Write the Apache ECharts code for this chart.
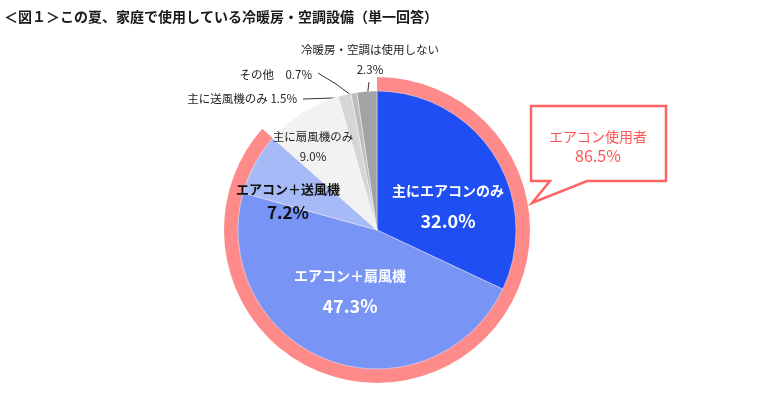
<!DOCTYPE html>
<html>
<head>
<meta charset="utf-8">
<script src="https://cdn.jsdelivr.net/npm/echarts@6/dist/echarts.min.js"></script>
<style>
  html, body { margin: 0; padding: 0; background: #fff; }
  #main { width: 760px; height: 397px; }
</style>
</head>
<body>
<div id="main"></div>
<script>
// data
var categories = ['主にエアコンのみ', 'エアコン＋扇風機', 'エアコン＋送風機', '主に扇風機のみ', '主に送風機のみ', 'その他', '冷暖房・空調は使用しない'];
var values = [32.0, 47.3, 7.2, 9.0, 1.5, 0.7, 2.3];
var airconCount = 3; // 先頭3項目がエアコン使用者

var colors = ['#1F4EF2', '#7895F6', '#A7BAF8', '#F2F2F2', '#D6D6D6', '#BDBDBD', '#A3A3A3'];
var font = '"Noto Sans CJK JP", "Noto Sans", sans-serif';
var cx = 377, cy = 230, rPie = 139, rRing = 153;

var airconTotal = 0;
for (var i = 0; i < airconCount; i++) airconTotal += values[i];
airconTotal = Math.round(airconTotal * 10) / 10;
var total = values.reduce(function (a, b) { return a + b; }, 0);

// ラベル位置（中心 or 右端）
var labelPos = [
  { x: 448, y: 206, align: 'center' },
  { x: 350, y: 291, align: 'center' },
  { x: 288, y: 201, align: 'center' },
  { x: 313, y: 147, align: 'center' },
  { x: 297, y: 99, align: 'right' },
  { x: 312, y: 75, align: 'right' },
  { x: 370, y: 60, align: 'center' }
];
// 引き出し線の折れ点
var lineBend = [null, null, null, null, [333, 98], [336, 84], [368, 90]];

function midPoint(idx, r) {
  var acc = 0;
  for (var k = 0; k < idx; k++) acc += values[k];
  var frac = (acc + values[idx] / 2) / total;
  var ang = Math.PI / 2 - frac * Math.PI * 2;
  return [cx + r * Math.cos(ang), cy - r * Math.sin(ang)];
}

var richStyles = {
  wb: { color: '#fff', fontWeight: 'bold', fontSize: 14, fontFamily: font, lineHeight: 30 },
  wv: { color: '#fff', fontWeight: 'bold', fontSize: 18, fontFamily: font, lineHeight: 30 },
  kb: { color: '#111', fontWeight: 'bold', fontSize: 13, fontFamily: font, lineHeight: 23 },
  kv: { color: '#111', fontWeight: 'bold', fontSize: 17, fontFamily: font, lineHeight: 23 },
  n: { color: '#222', fontSize: 11.5, fontFamily: font, lineHeight: 20 }
};

var pieData = categories.map(function (name, i) {
  var v = values[i].toFixed(1) + '%';
  var fmt, pos = 'inside', showLine = false;
  if (i < 2) fmt = '{wb|' + name + '}\n{wv|' + v + '}';
  else if (i === 2) fmt = '{kb|' + name + '}\n{kv|' + v + '}';
  else if (i === 3) fmt = '{n|' + name + '}\n{n|' + v + '}';
  else if (i === 4) { fmt = '{n|' + name + ' ' + v + '}'; pos = 'outside'; showLine = true; }
  else if (i === 5) { fmt = '{n|' + name + '　' + v + '}'; pos = 'outside'; showLine = true; }
  else { fmt = '{n|' + name + '}\n{n|' + v + '}'; pos = 'outside'; showLine = true; }
  return {
    name: name,
    value: values[i],
    itemStyle: { color: colors[i] },
    label: { show: true, position: pos, formatter: fmt, rich: richStyles },
    labelLine: { show: showLine, lineStyle: { color: '#333', width: 1 } }
  };
});

var ringData = [
  { name: 'エアコン使用者', value: airconTotal, itemStyle: { color: '#FF8A8A' } },
  { name: 'その他', value: Math.round((total - airconTotal) * 10) / 10, itemStyle: { color: 'rgba(0,0,0,0)' } }
];

var myChart = echarts.init(document.getElementById('main'));
myChart.setOption({
  animation: false,
  title: {
    text: '＜図１＞この夏、家庭で使用している冷暖房・空調設備（単一回答）',
    left: 4,
    top: 10,
    padding: 0,
    textStyle: { fontFamily: font, fontSize: 14, fontWeight: 'bold', color: '#1a1a1a' }
  },
  series: [
    {
      type: 'pie',
      silent: true,
      center: [cx, cy],
      radius: [0, rRing],
      startAngle: 90,
      clockwise: true,
      label: { show: false },
      labelLine: { show: false },
      itemStyle: { borderWidth: 0 },
      data: ringData,
      z: 1
    },
    {
      type: 'pie',
      center: [cx, cy],
      radius: [0, rPie],
      startAngle: 90,
      clockwise: true,
      avoidLabelOverlap: false,
      itemStyle: { borderColor: 'rgba(255,255,255,0.7)', borderWidth: 0.6 },
      data: pieData,
      z: 2,
      labelLayout: function (params) {
        var p = labelPos[params.dataIndex];
        var out = { x: p.x, y: p.y, align: p.align, verticalAlign: 'middle' };
        var bend = lineBend[params.dataIndex];
        if (bend) {
          var start = midPoint(params.dataIndex, rPie - 5);
          var end;
          if (params.dataIndex === 6) end = [369, 82];
          else end = [p.x + 6, p.y - (params.dataIndex === 5 ? 2 : 0)];
          out.labelLinePoints = [start, bend, end];
        }
        return out;
      }
    }
  ],
  graphic: [
    {
      type: 'polygon',
      shape: {
        points: [[531, 106], [666, 106], [666, 181], [587, 181], [532, 203], [550, 181], [531, 181]]
      },
      style: { fill: '#fff', stroke: '#FF6464', lineWidth: 2.5 },
      z: 10
    },
    {
      type: 'text',
      x: 598,
      y: 137,
      style: {
        text: 'エアコン使用者',
        fill: '#FF5555',
        font: '14px ' + font,
        textAlign: 'center',
        textVerticalAlign: 'middle'
      },
      z: 11
    },
    {
      type: 'text',
      x: 598,
      y: 156,
      style: {
        text: airconTotal.toFixed(1) + '%',
        fill: '#FF5555',
        font: '16px ' + font,
        textAlign: 'center',
        textVerticalAlign: 'middle'
      },
      z: 11
    }
  ]
});
</script>
</body>
</html>
